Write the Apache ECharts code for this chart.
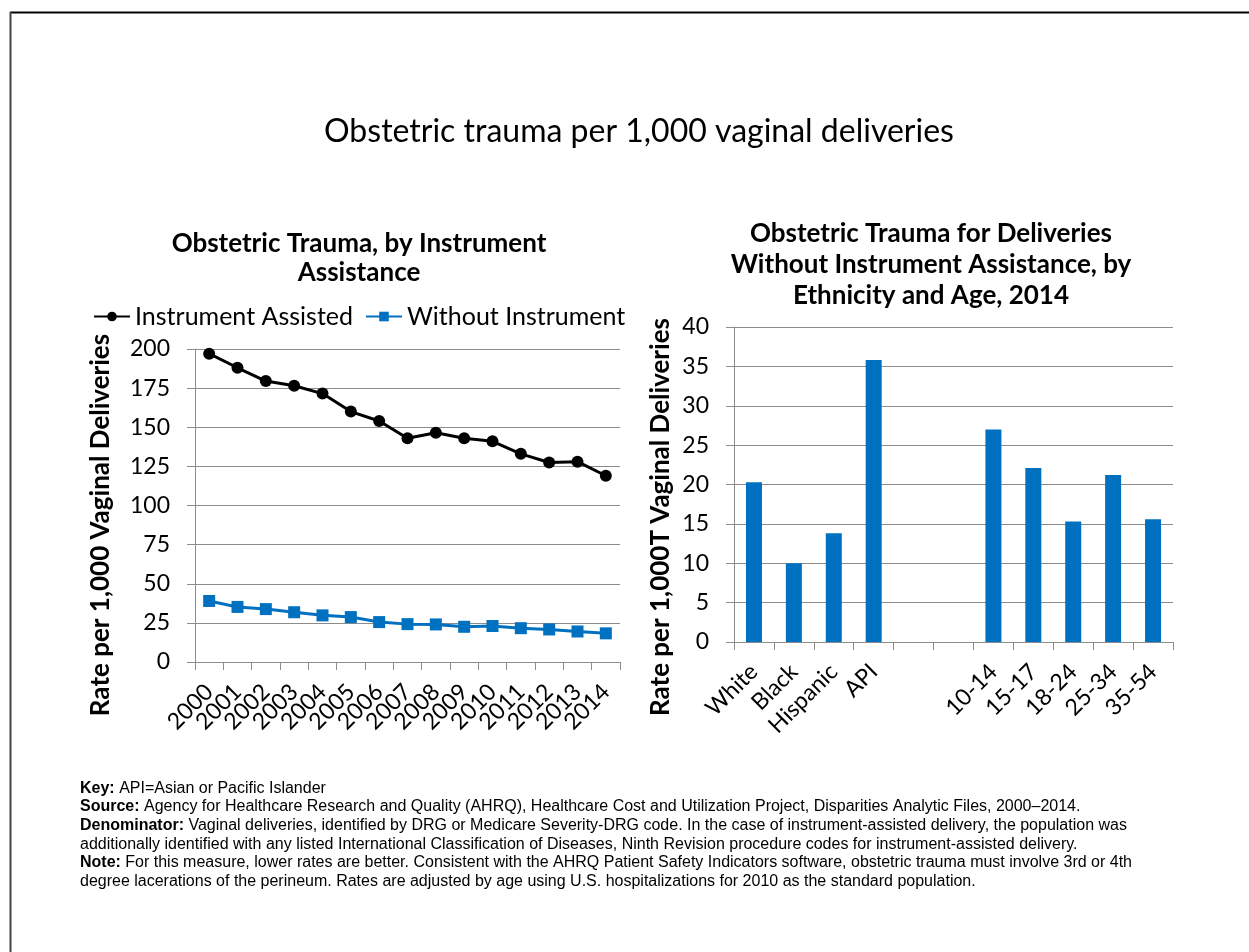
<!DOCTYPE html>
<html>
<head>
<meta charset="utf-8">
<script src="https://cdn.jsdelivr.net/npm/echarts@6/dist/echarts.min.js"></script>
<style>
  html, body { margin: 0; padding: 0; background: #fff; }
  #chart { width: 1249px; height: 952px; }
</style>
</head>
<body>
<div id="chart"></div>
<script>
// 数据
const years = ['2000', '2001', '2002', '2003', '2004', '2005', '2006', '2007', '2008', '2009', '2010', '2011', '2012', '2013', '2014']
const instrumentAssisted = [197, 188, 179.5, 176.5, 171.5, 160, 154, 143, 146.5, 143, 141, 133, 127.5, 128, 119]
const withoutInstrument = [39, 35.2, 33.8, 31.8, 29.8, 28.7, 25.5, 24.2, 24, 22.5, 23, 21.6, 20.8, 19.5, 18.3]
const groups = ['White', 'Black', 'Hispanic', 'API', '', '', '10-14', '15-17', '18-24', '25-34', '35-54']
const groupRates = [20.3, 10.0, 13.8, 35.8, null, null, 27.0, 22.1, 15.3, 21.2, 15.6]
const leftTicks = [0, 200, 25]
const rightTicks = [0, 40, 5]

const blue = '#0070C0'
const gridGray = '#8c8c8c'
const font = 'Lato'

const axisCommon = {
  axisLine: { show: true, lineStyle: { color: gridGray, width: 1 } },
  axisTick: { show: true, length: 8, lineStyle: { color: gridGray } },
  splitLine: { lineStyle: { color: gridGray, width: 1 } }
}

const myChart = echarts.init(document.getElementById('chart'))

const option = {
  animation: false,
  textStyle: { fontFamily: font },
  title: [
    {
      text: 'Obstetric trauma per 1,000 vaginal deliveries',
      left: 634, top: 111, textAlign: 'center',
      textStyle: { fontFamily: font, fontSize: 32, fontWeight: 'normal', color: '#000' }
    },
    {
      text: 'Obstetric Trauma, by Instrument\nAssistance',
      left: 354, top: 224, textAlign: 'center',
      textStyle: { fontFamily: font, fontSize: 26, fontWeight: 'bold', color: '#000', lineHeight: 29 }
    },
    {
      text: 'Obstetric Trauma for Deliveries\nWithout Instrument Assistance, by\nEthnicity and Age, 2014',
      left: 926, top: 213, textAlign: 'center',
      textStyle: { fontFamily: font, fontSize: 26, fontWeight: 'bold', color: '#000', lineHeight: 31 }
    }
  ],
  legend: {
    left: 88, top: 299,
    itemWidth: 36, itemHeight: 12, itemGap: 12,
    textStyle: { fontFamily: font, fontSize: 25, color: '#000' },
    data: ['Instrument Assisted', 'Without Instrument']
  },
  grid: [
    { left: 195, top: 349, width: 425, height: 313 },
    { left: 734, top: 327, width: 439, height: 315 }
  ],
  xAxis: [
    {
      gridIndex: 0, type: 'category', data: years, boundaryGap: true,
      ...axisCommon,
      axisTick: { show: true, length: 8, lineStyle: { color: gridGray } },
      axisLabel: { rotate: 45, fontFamily: font, fontSize: 23, color: '#000', margin: 26, interval: 0 }
    },
    {
      gridIndex: 1, type: 'category', data: groups, boundaryGap: true,
      ...axisCommon,
      axisTick: { show: true, length: 8, interval: 0, lineStyle: { color: gridGray } },
      axisLabel: { rotate: 45, fontFamily: font, fontSize: 23, color: '#000', margin: 26, interval: 0 }
    }
  ],
  yAxis: [
    {
      gridIndex: 0, type: 'value', min: leftTicks[0], max: leftTicks[1], interval: leftTicks[2],
      ...axisCommon,
      axisLabel: { fontFamily: font, fontSize: 23, color: '#000', margin: 25 }
    },
    {
      gridIndex: 1, type: 'value', min: rightTicks[0], max: rightTicks[1], interval: rightTicks[2],
      ...axisCommon,
      axisLabel: { fontFamily: font, fontSize: 23, color: '#000', margin: 25 }
    }
  ],
  series: [
    {
      name: 'Instrument Assisted', type: 'line', xAxisIndex: 0, yAxisIndex: 0,
      data: instrumentAssisted,
      symbol: 'circle', symbolSize: 12,
      lineStyle: { color: '#000', width: 3 },
      itemStyle: { color: '#000' }
    },
    {
      name: 'Without Instrument', type: 'line', xAxisIndex: 0, yAxisIndex: 0,
      data: withoutInstrument,
      symbol: 'rect', symbolSize: 12,
      lineStyle: { color: blue, width: 3 },
      itemStyle: { color: blue }
    },
    {
      name: 'Rate', type: 'bar', xAxisIndex: 1, yAxisIndex: 1,
      data: groupRates, barWidth: 16,
      itemStyle: { color: blue }
    }
  ],
  graphic: [
    { type: 'line', shape: { x1: 10, y1: 12.5, x2: 1249, y2: 12.5 }, style: { stroke: '#000', lineWidth: 2 } },
    { type: 'line', shape: { x1: 10.5, y1: 12, x2: 10.5, y2: 952 }, style: { stroke: '#444', lineWidth: 2 } },
    {
      type: 'text', x: 101, y: 525, rotation: Math.PI / 2,
      style: { text: 'Rate per 1,000 Vaginal Deliveries', font: 'bold 26px Lato', fill: '#000', align: 'center', verticalAlign: 'middle' }
    },
    {
      type: 'text', x: 661, y: 517, rotation: Math.PI / 2,
      style: { text: 'Rate per 1,000T Vaginal Deliveries', font: 'bold 26px Lato', fill: '#000', align: 'center', verticalAlign: 'middle' }
    },
    {
      type: 'text', left: 80, top: 779,
      style: {
        text: [
          '{b|Key:} API=Asian or Pacific Islander',
          '{b|Source:} Agency for Healthcare Research and Quality (AHRQ), Healthcare Cost and Utilization Project, Disparities Analytic Files, 2000\u20132014.',
          '{b|Denominator:} Vaginal deliveries, identified by DRG or Medicare Severity-DRG code. In the case of instrument-assisted delivery, the population was',
          'additionally identified with any listed International Classification of Diseases, Ninth Revision procedure codes for instrument-assisted delivery.',
          '{b|Note:} For this measure, lower rates are better. Consistent with the AHRQ Patient Safety Indicators software, obstetric trauma must involve 3rd or 4th',
          'degree lacerations of the perineum. Rates are adjusted by age using U.S. hospitalizations for 2010 as the standard population.'
        ].join('\n'),
        font: '16px "Liberation Sans"',
        fill: '#000',
        lineHeight: 18.6,
        rich: {
          b: { font: 'bold 16px "Liberation Sans"', fill: '#000', lineHeight: 18.6 }
        }
      }
    }
  ]
}

if (option && typeof option === 'object') {
  myChart.setOption(option, true)
}
</script>
</body>
</html>
